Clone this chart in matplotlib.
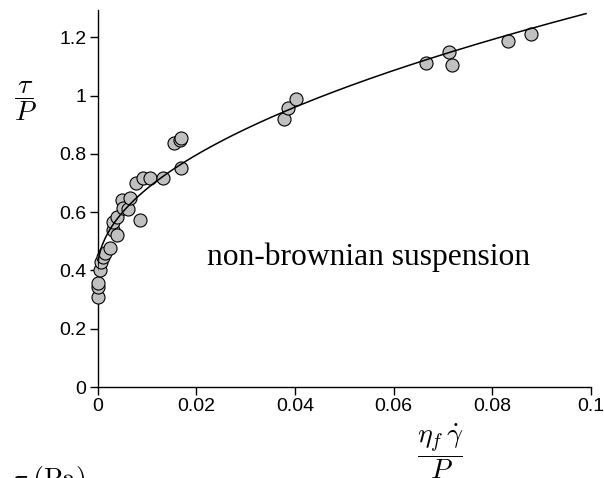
import numpy as np
import matplotlib
matplotlib.use("Agg")
import matplotlib.pyplot as plt

# ---- data ----
J = [0.0, 0.0, 0.0, 0.0005, 0.0008, 0.0012, 0.0015, 0.0025, 0.0032, 0.0032,
     0.0039, 0.0039, 0.0049, 0.0052, 0.0061, 0.0066, 0.0079, 0.0086, 0.0093,
     0.0106, 0.0132, 0.0155, 0.0168, 0.0170, 0.0169, 0.0377, 0.0387, 0.0402,
     0.0666, 0.0712, 0.0718, 0.0832, 0.0878]
mu = [0.31, 0.344, 0.356, 0.401, 0.430, 0.445, 0.459, 0.478, 0.539, 0.567,
      0.521, 0.584, 0.641, 0.613, 0.610, 0.648, 0.699, 0.573, 0.717,
      0.718, 0.717, 0.838, 0.848, 0.853, 0.753, 0.918, 0.958, 0.989,
      1.110, 1.150, 1.103, 1.187, 1.211]

# fitted law  mu = mu0 + b * J**n  (parameters)
fit_mu0 = 0.40
fit_b = 2.8
fit_n = 0.5
fit_Jmax = 0.099

xticks = [0, 0.02, 0.04, 0.06, 0.08, 0.1]
xticklabels = ["0", "0.02", "0.04", "0.06", "0.08", "0.1"]
yticks = [0, 0.2, 0.4, 0.6, 0.8, 1.0, 1.2]
yticklabels = ["0", "0.2", "0.4", "0.6", "0.8", "1", "1.2"]

plt.rcParams['mathtext.fontset'] = 'cm'

W, H = 604, 478
fig = plt.figure(figsize=(W / 100, H / 100), dpi=100)
x0, x1 = 97.5, 591.0
y0, y1 = 387.0, 10.0
ax = fig.add_axes([x0 / W, 1 - y0 / H, (x1 - x0) / W, (y0 - y1) / H])
ax.set_xlim(0, 0.1)
ax.set_ylim(0, (y0 - y1) / 291.5)

ax.scatter(J, mu, s=9.4 ** 2, facecolor='#c0c0c0', edgecolor='black',
           linewidths=0.8, zorder=3, clip_on=False)
Jc = np.linspace(0, fit_Jmax, 400)
ax.plot(Jc, fit_mu0 + fit_b * Jc ** fit_n, color='black', lw=1.1, zorder=4)

for s in ['top', 'right']:
    ax.spines[s].set_visible(False)
for s in ['left', 'bottom']:
    ax.spines[s].set_linewidth(1.0)
ax.set_xticks(xticks)
ax.set_xticklabels(xticklabels, family='Liberation Sans', fontsize=14)
ax.set_yticks(yticks)
ax.set_yticklabels(yticklabels, family='Liberation Sans', fontsize=14)
ax.tick_params(direction='out', length=6, width=1.0, pad=2)

ax.text(0.0222, 0.4185, "non-brownian suspension", family='Liberation Serif',
        fontsize=22.7, va='baseline', ha='left')

fig.text(25 / W, 1 - 101 / H, r"$\dfrac{\tau}{P}$", fontsize=20,
         ha='center', va='center')
fig.text(440 / W, 1 - 451 / H, r"$\dfrac{\eta_f\,\dot{\gamma}}{P}$", fontsize=20,
         ha='center', va='center')
fig.text(12 / W, 1 - 464 / H, r"$\tau\ (\mathrm{Pa})$", fontsize=20,
         ha='left', va='top')

fig.savefig("out.png", dpi=100)
